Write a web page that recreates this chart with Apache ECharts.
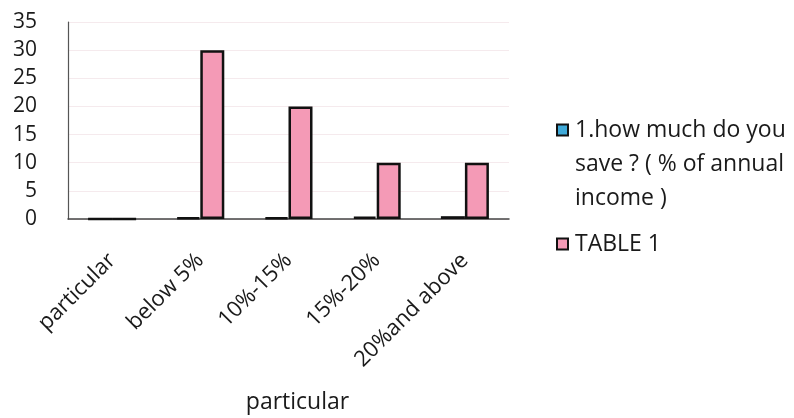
<!DOCTYPE html>
<html><head><meta charset="utf-8">
<script src="https://cdn.jsdelivr.net/npm/echarts@6/dist/echarts.min.js"></script>
<style>html,body{margin:0;padding:0;background:#fff}#c{width:794px;height:418px}</style>
</head><body><div id="c"></div>
<script>
var categories = ['particular', 'below 5%', '10%-15%', '15%-20%', '20%and above'];
var seriesNames = ['1.how much do you save ? ( % of annual income )', 'TABLE 1'];
var blueValues = [0, 0.3, 0.3, 0.4, 0.5];
var pinkValues = [0, 30, 20, 10, 10];
var yTicks = [0, 5, 10, 15, 20, 25, 30, 35];

var font = '"Open Sans", Lato, sans-serif';
var chart = echarts.init(document.getElementById('c'), null, {renderer: 'canvas'});
chart.setOption({
  animation: false,
  textStyle: {fontFamily: font},
  grid: {left: 68, right: 285, top: 22, bottom: 199},
  legend: {
    orient: 'vertical', left: 551, top: 40,
    itemWidth: 11, itemHeight: 11, itemGap: 12,
    icon: 'rect',
    textStyle: {fontSize: 23, color: '#1a1a1a', lineHeight: 34, fontFamily: font, padding: [0, 0, 0, 2]},
    formatter: function (n) {
      return n === seriesNames[0] ? '\n\n1.how much do you\nsave ? ( % of annual\nincome )' : n;
    },
    data: seriesNames
  },
  xAxis: {
    type: 'category', data: categories,
    name: 'particular', nameLocation: 'middle', nameGap: 172,
    nameTextStyle: {fontSize: 23, color: '#1a1a1a', fontFamily: font, padding: [0, 0, 0, 18]},
    axisLine: {lineStyle: {color: '#444', width: 1.5}},
    axisTick: {show: false},
    axisLabel: {rotate: 45, fontSize: 22, color: '#1a1a1a', margin: 38, interval: 0, fontFamily: font}
  },
  yAxis: {
    type: 'value', min: yTicks[0], max: yTicks[yTicks.length - 1], interval: 5,
    axisLine: {show: true, lineStyle: {color: '#555', width: 1.2}},
    axisTick: {show: false},
    axisLabel: {fontSize: 21, color: '#1a1a1a', margin: 31, fontFamily: font},
    splitLine: {lineStyle: {color: '#f5eaed', width: 1}}
  },
  series: [
    {name: seriesNames[0], type: 'bar', data: blueValues, barWidth: 24, barGap: '0%',
     itemStyle: {color: '#3fa9d8', borderColor: '#111', borderWidth: 2.5}},
    {name: seriesNames[1], type: 'bar', data: pinkValues, barWidth: 24,
     itemStyle: {color: '#f49ab6', borderColor: '#111', borderWidth: 2.5}}
  ]
});
</script></body></html>
